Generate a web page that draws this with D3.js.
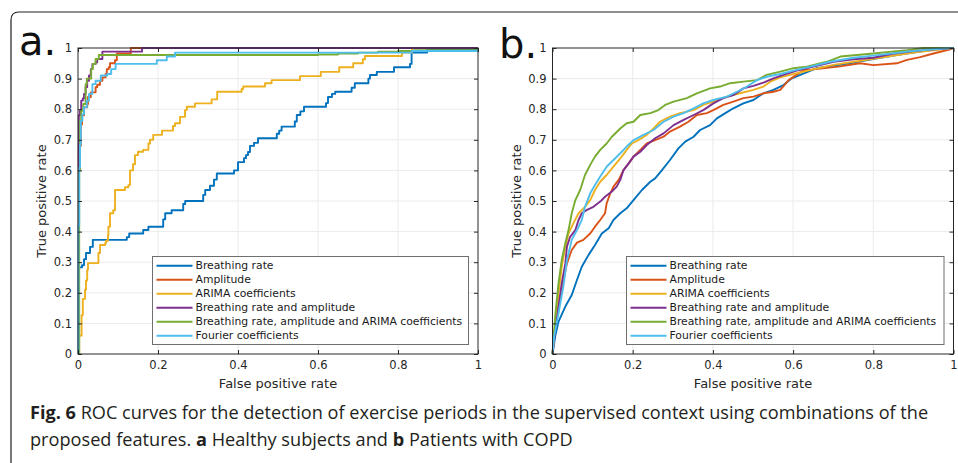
<!DOCTYPE html>
<html lang="en">
<head>
  <meta charset="utf-8">
  <title>ROC curves</title>
  <script src="https://cdn.jsdelivr.net/npm/d3@7"></script>
  <style>
    body { margin: 0; background: #fff; }
    svg text { font-family: "DejaVu Sans", sans-serif; }
  </style>
</head>
<body>
  <script>
    // tick labels
    const fprTicks = [0, 0.2, 0.4, 0.6, 0.8, 1];
    const tprTicks = [0, 0.1, 0.2, 0.3, 0.4, 0.5, 0.6, 0.7, 0.8, 0.9, 1];
    const seriesNames = ["Breathing rate", "Amplitude", "ARIMA coefficients",
      "Breathing rate and amplitude", "Breathing rate, amplitude and ARIMA coefficients",
      "Fourier coefficients"];
    const colors = ["#0072bd", "#d95319", "#edb120", "#7e2f8e", "#77ac30", "#4dbeee"];

    // panel a: healthy subjects, [false positive rate, true positive rate]
    const aBreathing = [[0,0],[0.002,0.283],[0.01,0.29],[0.015,0.31],[0.02,0.33],[0.03,0.35],[0.037,0.373],
      [0.122,0.382],[0.128,0.394],[0.163,0.405],[0.176,0.416],[0.213,0.44],[0.218,0.46],[0.234,0.47],
      [0.263,0.49],[0.268,0.5],[0.313,0.52],[0.318,0.536],[0.33,0.55],[0.34,0.57],[0.347,0.59],[0.39,0.6],
      [0.4,0.627],[0.415,0.64],[0.42,0.65],[0.425,0.66],[0.43,0.68],[0.44,0.69],[0.45,0.705],[0.497,0.72],
      [0.503,0.73],[0.509,0.743],[0.542,0.76],[0.547,0.781],[0.556,0.793],[0.565,0.808],[0.62,0.82],
      [0.625,0.84],[0.635,0.85],[0.643,0.857],[0.684,0.87],[0.692,0.885],[0.726,0.9],[0.73,0.912],
      [0.747,0.922],[0.79,0.937],[0.83,0.948],[0.834,0.985],[0.873,0.995],[1,1]];
    const aAmplitude = [[0,0],[0.002,0.68],[0.007,0.75],[0.01,0.78],[0.015,0.806],[0.023,0.817],[0.025,0.84],
      [0.032,0.855],[0.044,0.872],[0.048,0.88],[0.055,0.893],[0.061,0.904],[0.069,0.915],[0.072,0.931],
      [0.077,0.937],[0.08,0.95],[0.0925,0.96],[0.097,0.982],[0.132,1],[1,1]];
    const aArima = [[0,0],[0.003,0.06],[0.009,0.127],[0.012,0.18],[0.0175,0.21],[0.02,0.24],[0.023,0.275],
      [0.025,0.297],[0.051,0.33],[0.055,0.356],[0.068,0.363],[0.07,0.37],[0.075,0.39],[0.076,0.416],
      [0.08,0.46],[0.088,0.47],[0.0925,0.536],[0.1175,0.545],[0.126,0.552],[0.13,0.6],[0.1375,0.62],
      [0.1425,0.65],[0.15,0.661],[0.163,0.667],[0.176,0.688],[0.18,0.7],[0.188,0.716],[0.21,0.73],
      [0.2375,0.745],[0.2425,0.754],[0.255,0.775],[0.2675,0.797],[0.272,0.808],[0.2925,0.819],
      [0.334,0.832],[0.348,0.857],[0.409,0.866],[0.413,0.874],[0.4675,0.885],[0.484,0.895],[0.555,0.908],
      [0.607,0.922],[0.653,0.937],[0.688,0.95],[0.712,0.963],[0.7175,0.974],[0.81,0.985],[0.835,1],[1,1]];
    const aBoth = [[0,0],[0.002,0.78],[0.005,0.795],[0.008,0.828],[0.012,0.835],[0.015,0.85],[0.019,0.872],
      [0.023,0.893],[0.0275,0.91],[0.032,0.931],[0.036,0.948],[0.044,0.953],[0.048,0.964],[0.061,0.988],
      [0.16,1],[1,1]];
    const aAll = [[0,0],[0.003,0.6],[0.005,0.762],[0.008,0.795],[0.013,0.817],[0.019,0.882],[0.022,0.9],
      [0.033,0.931],[0.037,0.948],[0.044,0.964],[0.052,0.977],[0.6,0.979],[0.65,0.982],[0.7,0.985],
      [0.75,0.988],[0.8,0.99],[0.84,0.993],[1,1]];
    const aFourier = [[0,0],[0.001,0.42],[0.003,0.61],[0.005,0.686],[0.007,0.762],[0.011,0.784],
      [0.015,0.806],[0.022,0.828],[0.0275,0.85],[0.036,0.882],[0.044,0.893],[0.057,0.91],[0.073,0.915],
      [0.083,0.931],[0.094,0.948],[0.197,0.96],[0.222,0.972],[0.2425,0.985],[0.834,0.99],[1,1]];

    // panel b: patients with COPD
    const bBreathing = [[0,0],[0.0066,0.057],[0.015,0.106],[0.032,0.155],[0.048,0.193],[0.061,0.242],
      [0.073,0.285],[0.09,0.324],[0.106,0.356],[0.123,0.394],[0.14,0.411],[0.152,0.438],[0.169,0.46],
      [0.185,0.476],[0.202,0.503],[0.223,0.536],[0.244,0.563],[0.256,0.574],[0.273,0.601],[0.293,0.634],
      [0.314,0.672],[0.331,0.694],[0.352,0.71],[0.368,0.732],[0.393,0.748],[0.41,0.77],[0.431,0.787],
      [0.451,0.803],[0.476,0.819],[0.501,0.83],[0.526,0.852],[0.551,0.863],[0.576,0.879],[0.597,0.901],
      [0.618,0.912],[0.659,0.934],[0.684,0.939],[0.75,0.952],[0.85,0.975],[0.95,0.995],[1,1]];
    const bAmplitude = [[0,0],[0.004,0.068],[0.011,0.122],[0.019,0.176],[0.027,0.242],[0.036,0.296],
      [0.048,0.34],[0.061,0.364],[0.077,0.373],[0.094,0.394],[0.106,0.416],[0.119,0.438],[0.131,0.46],
      [0.135,0.492],[0.144,0.525],[0.152,0.547],[0.165,0.569],[0.177,0.601],[0.19,0.623],[0.202,0.645],
      [0.219,0.667],[0.235,0.688],[0.256,0.699],[0.277,0.71],[0.293,0.727],[0.318,0.743],[0.339,0.759],
      [0.36,0.781],[0.385,0.787],[0.401,0.797],[0.426,0.814],[0.451,0.825],[0.476,0.836],[0.501,0.841],
      [0.526,0.852],[0.551,0.857],[0.568,0.863],[0.589,0.895],[0.626,0.928],[0.651,0.93],[0.713,0.939],
      [0.767,0.95],[0.8,0.944],[0.859,0.95],[0.884,0.961],[0.917,0.97],[0.95,0.982],[0.992,0.996],[1,1]];
    const bArima = [[0,0],[0.0066,0.089],[0.015,0.198],[0.023,0.285],[0.032,0.351],[0.04,0.394],
      [0.052,0.427],[0.065,0.46],[0.081,0.481],[0.094,0.503],[0.106,0.536],[0.119,0.563],[0.135,0.585],
      [0.152,0.612],[0.169,0.639],[0.185,0.667],[0.198,0.688],[0.214,0.699],[0.235,0.716],[0.252,0.737],
      [0.268,0.759],[0.293,0.776],[0.318,0.787],[0.352,0.797],[0.376,0.814],[0.401,0.825],[0.435,0.841],
      [0.468,0.852],[0.501,0.863],[0.526,0.874],[0.543,0.89],[0.568,0.904],[0.601,0.915],[0.65,0.93],
      [0.7,0.945],[0.8,0.965],[0.9,0.985],[1,1]];
    const bBoth = [[0,0],[0.0066,0.078],[0.015,0.155],[0.023,0.231],[0.032,0.296],[0.036,0.351],
      [0.044,0.383],[0.057,0.405],[0.065,0.438],[0.073,0.46],[0.086,0.471],[0.102,0.481],[0.119,0.498],
      [0.131,0.514],[0.148,0.531],[0.16,0.547],[0.169,0.569],[0.177,0.601],[0.19,0.623],[0.202,0.645],
      [0.219,0.661],[0.235,0.683],[0.256,0.705],[0.277,0.721],[0.302,0.748],[0.327,0.765],[0.352,0.781],
      [0.376,0.797],[0.401,0.819],[0.426,0.836],[0.451,0.846],[0.476,0.868],[0.501,0.876],[0.526,0.887],
      [0.551,0.901],[0.576,0.912],[0.609,0.926],[0.651,0.939],[0.701,0.955],[0.751,0.963],[0.8,0.968],
      [0.85,0.982],[0.9,0.99],[0.933,0.994],[1,1]];
    const bAll = [[0,0],[0.0066,0.122],[0.015,0.231],[0.023,0.307],[0.032,0.362],[0.04,0.405],
      [0.048,0.46],[0.057,0.503],[0.069,0.536],[0.081,0.585],[0.094,0.618],[0.106,0.645],[0.119,0.667],
      [0.135,0.688],[0.148,0.71],[0.169,0.737],[0.185,0.754],[0.202,0.759],[0.219,0.781],[0.244,0.787],
      [0.264,0.797],[0.281,0.814],[0.302,0.825],[0.335,0.836],[0.36,0.852],[0.393,0.868],[0.418,0.874],
      [0.443,0.885],[0.476,0.89],[0.51,0.895],[0.534,0.912],[0.568,0.923],[0.601,0.934],[0.634,0.939],
      [0.684,0.955],[0.718,0.972],[0.8,0.982],[0.884,0.993],[0.925,1],[1,1]];
    const bFourier = [[0,0],[0.004,0.057],[0.015,0.133],[0.027,0.22],[0.036,0.307],[0.048,0.373],
      [0.061,0.405],[0.073,0.438],[0.081,0.481],[0.094,0.525],[0.106,0.552],[0.119,0.58],[0.135,0.612],
      [0.152,0.634],[0.169,0.656],[0.185,0.678],[0.202,0.699],[0.227,0.716],[0.252,0.732],[0.277,0.759],
      [0.302,0.776],[0.327,0.787],[0.352,0.803],[0.376,0.819],[0.401,0.83],[0.435,0.841],[0.46,0.857],
      [0.485,0.874],[0.51,0.895],[0.534,0.906],[0.568,0.915],[0.601,0.926],[0.643,0.939],[0.692,0.955],
      [0.751,0.968],[0.8,0.975],[0.884,0.988],[0.95,0.996],[1,1]];

    const panelA = [aBreathing, aAmplitude, aArima, aBoth, aAll, aFourier];
    const panelB = [bBreathing, bAmplitude, bArima, bBoth, bAll, bFourier];

    const W = 958, H = 463;
    const svg = d3.select("body").append("svg")
      .attr("width", W).attr("height", H);
    svg.append("rect").attr("width", W).attr("height", H).attr("fill", "#fff");

    // frame around the figure
    svg.append("path")
      .attr("d", "M11,463 V20 Q11,12 19,12 H958")
      .attr("fill", "none").attr("stroke", "#231f20").attr("stroke-width", 1.2);

    function drawPanel(left, right, letter, letterX, letterY, curves, stepped, legendLeft, legendRight) {
      let top = 48, bottom = 354;
      let x = d3.scaleLinear().domain([0, 1]).range([left, right]);
      let y = d3.scaleLinear().domain([0, 1]).range([bottom, top]);
      let g = svg.append("g");

      // grid
      g.append("g").selectAll("line").data(fprTicks.slice(1, -1)).join("line")
        .attr("x1", d => x(d)).attr("x2", d => x(d)).attr("y1", top).attr("y2", bottom)
        .attr("stroke", "#ebebeb").attr("stroke-width", 1);
      g.append("g").selectAll("line").data(tprTicks.slice(1, -1)).join("line")
        .attr("x1", left).attr("x2", right).attr("y1", d => y(d)).attr("y2", d => y(d))
        .attr("stroke", "#ebebeb").attr("stroke-width", 1);

      // curves
      let line = d3.line().x(d => x(d[0])).y(d => y(d[1]))
        .curve(stepped ? d3.curveStepAfter : d3.curveLinear);
      g.append("g").selectAll("path").data(curves).join("path")
        .attr("d", d => line(d))
        .attr("fill", "none")
        .attr("stroke", (d, i) => colors[i])
        .attr("stroke-width", 1.9)
        .attr("stroke-linejoin", "round");

      // axes with inward ticks on all four sides
      let fmt = d => String(d);
      let styleAxis = a => {
        a.select(".domain").remove();
        a.selectAll("line").attr("stroke", "#262626");
        a.selectAll("text").attr("fill", "#262626")
          .style("font-family", "DejaVu Sans").style("font-size", "11.5px");
      };
      g.append("g").attr("transform", `translate(0,${bottom})`)
        .call(d3.axisBottom(x).tickValues(fprTicks).tickFormat(fmt).tickSizeInner(-4).tickSizeOuter(0).tickPadding(7))
        .call(styleAxis);
      g.append("g").attr("transform", `translate(${left},0)`)
        .call(d3.axisLeft(y).tickValues(tprTicks).tickFormat(fmt).tickSizeInner(-4).tickSizeOuter(0).tickPadding(6))
        .call(styleAxis);
      g.append("g").attr("transform", `translate(0,${top})`)
        .call(d3.axisTop(x).tickValues(fprTicks).tickFormat("").tickSizeInner(-4).tickSizeOuter(0))
        .call(styleAxis);
      g.append("g").attr("transform", `translate(${right},0)`)
        .call(d3.axisRight(y).tickValues(tprTicks).tickFormat("").tickSizeInner(-4).tickSizeOuter(0))
        .call(styleAxis);
      g.append("rect")
        .attr("x", left).attr("y", top).attr("width", right - left).attr("height", bottom - top)
        .attr("fill", "none").attr("stroke", "#262626").attr("stroke-width", 1);

      // axis labels
      g.append("text").text("False positive rate")
        .attr("x", (left + right) / 2).attr("y", 388)
        .attr("text-anchor", "middle").attr("fill", "#262626").style("font-size", "13px");
      g.append("text").text("True positive rate")
        .attr("transform", `translate(${left - 32},${(top + bottom) / 2}) rotate(-90)`)
        .attr("text-anchor", "middle").attr("fill", "#262626").style("font-size", "13px");

      // legend
      let lg = g.append("g");
      lg.append("rect")
        .attr("x", legendLeft).attr("y", 256.5).attr("width", legendRight - legendLeft).attr("height", 88)
        .attr("fill", "#fff").attr("stroke", "#6f6f6f").attr("stroke-width", 1);
      let rows = lg.selectAll("g").data(seriesNames).join("g")
        .attr("transform", (d, i) => `translate(${legendLeft},${265.7 + i * 14})`);
      rows.append("line").attr("x1", 4).attr("x2", 40)
        .attr("stroke", (d, i) => colors[i]).attr("stroke-width", 1.9);
      rows.append("text").text(d => d)
        .attr("x", 43).attr("dy", "0.35em")
        .attr("fill", "#1a1a1a").style("font-size", "10.8px");

      // panel letter
      g.append("text").text(letter)
        .attr("x", letterX).attr("y", letterY)
        .attr("fill", "#111").style("font-size", "40px");
    }

    drawPanel(78, 478, "a.", 19, 55, panelA, true, 152.5, 468.5);
    drawPanel(552.5, 953.5, "b.", 499, 58, panelB, false, 626.5, 944);

    // caption, squeezed to the width of the reference
    function captionLine(parts, yPos, width) {
      let t = svg.append("text")
        .attr("x", 0).attr("y", 0)
        .attr("fill", "#231f20")
        .style("font-family", "'Open Sans', sans-serif")
        .style("font-size", "18.5px");
      parts.forEach(p => {
        t.append("tspan").text(p[0]).style("font-weight", p[1] ? "bold" : "normal");
      });
      let w = t.node().getComputedTextLength();
      t.attr("transform", `translate(30,${yPos}) scale(${width / w},1)`);
    }
    captionLine([["Fig. 6", true], ["  ROC curves for the detection of exercise periods in the supervised context using combinations of the", false]], 419, 899);
    captionLine([["proposed features. ", false], ["a", true], [" Healthy subjects and ", false], ["b", true], [" Patients with COPD", false]], 446, 543);
  </script>
</body>
</html>
